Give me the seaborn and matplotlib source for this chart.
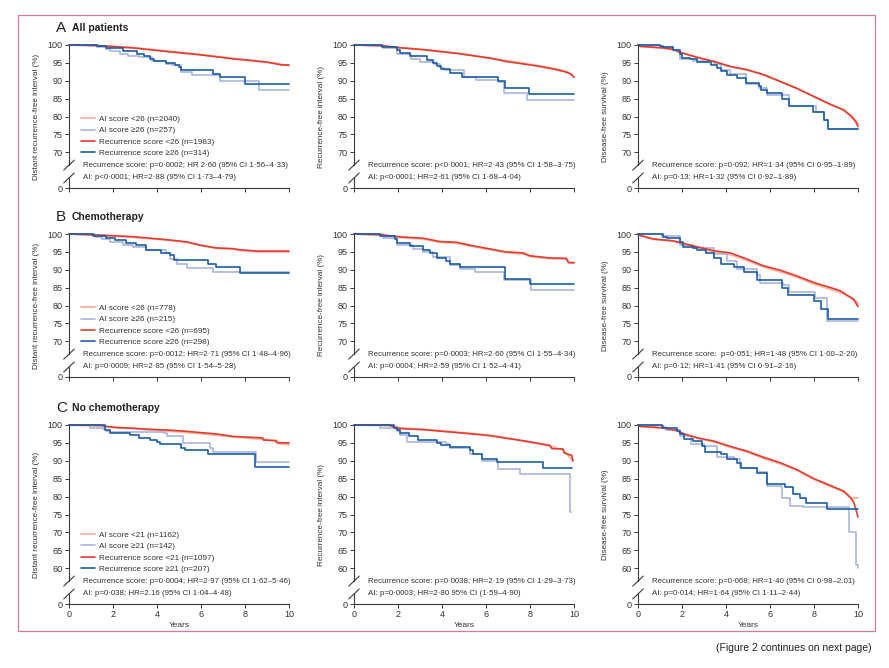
import matplotlib
matplotlib.use("Agg")
import matplotlib.pyplot as plt
import matplotlib.transforms as mtransforms
from matplotlib.patches import Rectangle
import seaborn as sns

# --- data: (years, % event-free) for each Kaplan-Meier curve ---
# A: all patients
a1_ai_lo = ([0, 1.0, 2.0, 3.0, 4.0, 5.0, 6.0, 7.0, 7.5, 8.0, 8.5, 9.0, 9.5, 9.7, 10.0],
            [100, 99.9, 99.6, 99.2, 98.6, 98.0, 97.3, 96.6, 96.2, 95.9, 95.6, 95.2, 94.8, 94.4, 94.3])
a1_ai_hi = ([0, 1.25, 1.7, 1.85, 2.3, 2.7, 3.2, 3.75, 4.4, 4.7, 5.1, 5.6, 6.85, 8.65, 10],
            [100, 99.5, 98.9, 98.2, 97.6, 97.0, 96.7, 95.5, 94.8, 94.3, 92.5, 91.7, 90.0, 87.5, 87.5])
a1_rs_lo = ([0, 1.4, 2.9, 4.4, 5.9, 7.5, 8.2, 9.0, 9.6, 10],
            [100, 99.8, 99.2, 98.2, 97.3, 96.1, 95.7, 95.2, 94.5, 94.4])
a1_rs_hi = ([0, 1.25, 1.7, 2.45, 3.1, 3.4, 3.7, 3.85, 4.4, 4.8, 5.0, 5.1, 6.55, 6.85, 8.0, 10],
            [100, 99.6, 99.1, 98.2, 97.4, 96.8, 96.2, 95.5, 95.0, 94.5, 93.8, 93.0, 92.0, 91.0, 89.2, 89.2])

a2_ai_lo = ([0, 1.0, 2.0, 3.0, 4.0, 5.0, 6.0, 7.0, 8.0, 9.0, 9.5, 9.8, 10],
            [100, 99.8, 99.3, 98.8, 98.1, 97.4, 96.5, 95.6, 94.6, 93.6, 92.9, 92.2, 91.0])
a2_ai_hi = ([0, 1.3, 1.95, 2.6, 3.0, 3.65, 3.9, 4.1, 5.0, 5.55, 6.55, 6.8, 7.85, 10],
            [100, 99.2, 97.6, 96.0, 95.3, 94.8, 93.5, 93.0, 91.0, 90.1, 89.6, 86.7, 84.6, 84.6])
a2_rs_lo = ([0, 1.3, 1.95, 3.15, 4.65, 6.2, 6.9, 7.7, 8.45, 9.2, 9.65, 9.9, 10],
            [100, 99.8, 99.3, 98.7, 97.7, 96.3, 95.4, 94.7, 94.0, 93.1, 92.4, 91.7, 91.0])
a2_rs_hi = ([0, 1.25, 1.95, 2.1, 2.55, 3.3, 3.6, 3.75, 3.95, 4.35, 4.9, 6.55, 6.85, 7.95, 10],
            [100, 99.4, 98.5, 97.7, 96.8, 95.7, 95.0, 94.0, 93.2, 92.3, 91.0, 90.0, 88.0, 86.2, 86.2])

a3_ai_lo = ([0, 0.1, 0.4, 1.15, 1.6, 1.9, 2.7, 3.45, 4.2, 4.95, 5.7, 6.45, 7.2, 8.0, 8.75, 9.35, 9.7, 9.9, 10],
            [100, 99.7, 99.5, 99.1, 98.7, 97.9, 96.6, 95.3, 93.9, 93.0, 91.8, 89.9, 88.0, 85.5, 83.3, 81.9, 80.2, 79.0, 78.0])
a3_ai_hi = ([0, 1.0, 1.6, 1.9, 2.5, 3.45, 3.75, 4.2, 4.9, 5.5, 5.85, 6.85, 8.1, 8.45, 8.65, 10],
            [100, 99.5, 98.5, 96.0, 95.6, 94.7, 93.0, 92.0, 89.0, 88.0, 86.0, 83.0, 81.3, 79.0, 76.4, 76.4])
a3_rs_lo = ([0, 0.1, 0.4, 1.15, 1.6, 1.9, 2.7, 3.45, 4.2, 4.95, 5.7, 6.45, 7.2, 8.0, 8.75, 9.35, 9.7, 9.9, 10],
            [100, 99.6, 99.5, 99.2, 98.8, 98.0, 96.5, 95.4, 94.0, 93.1, 91.7, 89.8, 87.9, 85.6, 83.4, 81.8, 80.0, 78.5, 77.2])
a3_rs_hi = ([0, 1.0, 1.15, 1.6, 1.9, 2.0, 2.35, 2.7, 3.3, 3.6, 3.75, 4.05, 4.5, 4.9, 5.5, 5.6, 5.85, 6.55, 6.85, 7.95, 8.45, 8.65, 10],
            [100, 99.6, 99.4, 98.6, 97.6, 96.3, 96.0, 95.3, 94.3, 93.5, 92.7, 91.7, 90.7, 89.5, 88.6, 87.3, 86.6, 85.0, 82.8, 81.3, 79.0, 76.4, 76.4])

# B: chemotherapy
b1_ai_lo = ([0, 1.4, 2.9, 4.45, 5.35, 5.95, 6.7, 7.45, 7.75, 8.6, 10],
            [100, 99.6, 99.1, 98.3, 97.7, 96.8, 96.0, 95.8, 95.4, 95.0, 95.0])
b1_ai_hi = ([0, 1.2, 1.5, 1.85, 2.45, 2.9, 3.5, 4.4, 4.6, 4.9, 5.35, 6.55, 10],
            [100, 99.2, 98.5, 97.7, 97.0, 96.5, 95.5, 94.7, 93.0, 91.5, 90.6, 89.3, 89.0])
b1_rs_lo = ([0, 1.4, 2.9, 4.45, 5.35, 5.95, 6.7, 7.45, 7.75, 8.6, 10],
            [100, 99.7, 99.25, 98.4, 97.8, 96.9, 96.1, 95.9, 95.6, 95.2, 95.2])
b1_rs_hi = ([0, 1.1, 1.7, 2.1, 2.6, 3.05, 3.5, 4.2, 4.6, 4.75, 6.3, 6.7, 7.75, 10],
            [100, 99.5, 99.0, 98.2, 97.6, 96.9, 95.5, 94.7, 94.0, 92.6, 91.7, 90.7, 89.0, 89.0])

b2_ai_lo = ([0, 1.2, 2.1, 3.15, 3.9, 4.65, 5.4, 6.2, 6.9, 7.7, 8.0, 8.9, 9.65, 9.75, 10],
            [100, 99.7, 99.0, 98.6, 97.7, 97.4, 96.5, 95.6, 94.8, 94.4, 93.7, 93.1, 93.0, 92.0, 91.8])
b2_ai_hi = ([0, 1.3, 1.95, 2.7, 3.15, 3.6, 4.35, 4.8, 5.5, 6.8, 8.05, 10],
            [100, 99.0, 96.8, 95.8, 95.0, 93.5, 91.3, 90.2, 89.4, 87.0, 84.3, 84.3])
b2_rs_lo = ([0, 1.2, 2.1, 3.15, 3.9, 4.65, 5.4, 6.2, 6.9, 7.7, 8.0, 8.9, 9.65, 9.75, 10],
            [100, 99.8, 99.2, 98.8, 97.9, 97.7, 96.7, 95.8, 95.0, 94.7, 93.9, 93.3, 93.2, 92.0, 92.0])
b2_rs_hi = ([0, 1.2, 1.85, 1.95, 2.55, 3.15, 3.45, 3.75, 4.2, 4.35, 4.8, 6.85, 8.0, 10],
            [100, 99.4, 98.7, 97.5, 96.6, 95.4, 94.6, 93.3, 92.5, 91.6, 90.7, 87.5, 85.9, 85.9])

b3_ai_lo = ([0, 0.1, 0.4, 0.7, 1.6, 2.1, 2.7, 3.45, 4.2, 4.95, 5.7, 6.45, 7.2, 8.0, 8.75, 9.2, 9.8, 10],
            [100, 99.6, 99.0, 98.5, 98.0, 97.1, 96.2, 95.0, 94.2, 92.6, 90.8, 89.4, 88.0, 86.0, 84.5, 83.6, 81.9, 80.5])
b3_ai_hi = ([0, 1.1, 1.9, 2.5, 3.45, 4.05, 4.5, 5.4, 5.55, 6.6, 6.85, 8.05, 8.6, 10],
            [100, 99.4, 97.0, 96.0, 94.3, 92.5, 90.2, 88.5, 86.4, 85.8, 83.7, 82.0, 75.6, 75.6])
b3_rs_lo = ([0, 0.1, 0.4, 0.7, 1.6, 2.1, 2.7, 3.45, 4.2, 4.95, 5.7, 6.45, 7.2, 8.0, 8.75, 9.2, 9.8, 10],
            [100, 99.6, 99.1, 98.6, 98.1, 97.3, 96.4, 95.3, 94.7, 93.0, 91.1, 89.9, 88.3, 86.4, 85.0, 84.1, 81.7, 79.7])
b3_rs_hi = ([0, 1.15, 1.3, 1.9, 2.05, 2.5, 2.7, 3.1, 3.45, 3.75, 4.35, 4.8, 5.4, 6.55, 6.8, 8.0, 8.3, 8.65, 10],
            [100, 99.2, 98.8, 97.7, 96.4, 96.0, 95.4, 94.8, 93.4, 91.7, 90.7, 89.4, 87.0, 85.0, 83.0, 81.3, 79.0, 76.3, 76.3])

# C: no chemotherapy
c1_ai_lo = ([0, 1.55, 2.9, 4.45, 5.95, 7.45, 8.8, 9.5, 9.55, 10],
            [100, 99.6, 99.0, 98.3, 97.6, 96.7, 96.0, 95.6, 94.8, 94.5])
c1_ai_hi = ([0, 0.95, 1.55, 1.7, 1.85, 4.3, 4.45, 5.2, 6.4, 6.55, 8.5, 10],
            [100, 99.2, 99.0, 98.3, 98.0, 97.7, 96.8, 95.0, 93.5, 92.5, 89.8, 89.8])
c1_rs_lo = ([0, 1.4, 1.7, 2.1, 2.9, 3.65, 4.45, 5.2, 5.95, 6.7, 7.45, 8.8, 8.85, 9.4, 9.45, 10],
            [100, 100, 99.6, 99.3, 99.1, 98.8, 98.6, 98.3, 97.9, 97.5, 96.8, 96.4, 95.8, 95.6, 95.0, 95.0])
c1_rs_hi = ([0, 1.65, 1.85, 2.75, 3.2, 3.7, 4.0, 4.15, 5.1, 5.25, 6.3, 8.45, 10],
            [100, 98.5, 97.9, 97.2, 96.5, 95.9, 95.3, 94.6, 93.6, 93.0, 92.0, 88.3, 88.3])

c2_ai_lo = ([0, 1.6, 2.1, 3.15, 4.65, 5.4, 6.2, 6.9, 7.7, 8.45, 9.0, 9.5, 9.95],
            [100, 99.8, 99.2, 98.8, 98.0, 97.6, 97.1, 96.5, 95.5, 94.7, 94.0, 93.0, 90.0])
c2_ai_hi = ([0, 1.2, 1.95, 2.1, 2.4, 4.2, 4.35, 5.25, 5.8, 6.55, 7.55, 9.8, 9.85],
            [100, 99.3, 98.3, 97.3, 95.3, 94.8, 93.6, 92.0, 89.9, 87.6, 86.3, 75.6, 75.6])
c2_rs_lo = ([0, 1.6, 1.8, 2.1, 3.15, 4.65, 5.4, 6.2, 6.9, 7.7, 8.45, 8.9, 9.0, 9.5, 9.55, 9.9, 9.95],
            [100, 100, 99.5, 99.0, 98.7, 97.9, 97.5, 97.0, 96.3, 95.6, 94.8, 94.3, 93.4, 93.3, 92.2, 91.5, 90.0])
c2_rs_hi = ([0, 1.8, 1.95, 2.1, 2.5, 2.9, 3.75, 3.95, 4.35, 5.25, 5.4, 5.8, 6.5, 8.6, 9.9],
            [100, 99.3, 98.5, 97.8, 96.8, 95.7, 95.0, 94.3, 93.8, 93.0, 92.0, 90.5, 89.8, 88.0, 88.0])

c3_ai_lo = ([0, 0.1, 0.4, 1.15, 1.75, 2.1, 2.7, 3.45, 4.2, 4.95, 5.7, 6.45, 7.2, 8.0, 8.75, 9.35, 9.65, 10],
            [100, 99.7, 99.5, 99.1, 98.4, 97.4, 96.3, 95.3, 93.8, 92.5, 90.7, 89.2, 87.4, 84.8, 82.8, 81.4, 79.6, 79.6])
c3_ai_hi = ([0, 1.1, 1.25, 1.9, 2.4, 3.0, 3.6, 4.35, 4.65, 5.4, 5.85, 6.55, 6.9, 7.5, 9.6, 9.9, 10],
            [100, 99.5, 98.5, 97.0, 94.8, 94.0, 91.0, 90.5, 88.0, 87.0, 83.0, 79.5, 77.5, 77.0, 70.0, 61.0, 60.0])
c3_rs_lo = ([0, 0.1, 0.4, 1.15, 1.75, 2.1, 2.7, 3.45, 4.2, 4.95, 5.7, 6.45, 7.2, 8.0, 8.75, 9.35, 9.65, 9.8, 9.9, 10],
            [100, 99.6, 99.5, 99.2, 98.5, 97.5, 96.4, 95.5, 94.0, 92.7, 91.0, 89.5, 87.6, 85.0, 83.1, 81.5, 79.8, 78.5, 76.5, 74.3])
c3_rs_hi = ([0, 1.1, 1.15, 1.75, 1.9, 2.1, 2.5, 2.9, 3.05, 3.75, 4.05, 4.5, 4.7, 5.4, 5.85, 6.7, 7.05, 7.35, 7.65, 8.6, 10],
            [100, 99.6, 99.2, 98.4, 97.6, 96.0, 95.5, 94.0, 92.5, 92.0, 90.5, 89.5, 88.0, 86.5, 83.6, 82.7, 80.7, 79.5, 78.3, 76.6, 76.6])

row_titles = [("A", "All patients"), ("B", "Chemotherapy"), ("C", "No chemotherapy")]
y_labels = ["Distant recurrence-free interval (%)", "Recurrence-free interval (%)", "Disease-free survival (%)"]
legend_labels = [
    ["AI score <26 (n=2040)", "AI score ≥26 (n=257)", "Recurrence score <26 (n=1983)", "Recurrence score ≥26 (n=314)"],
    ["AI score <26 (n=778)", "AI score ≥26 (n=215)", "Recurrence score <26 (n=695)", "Recurrence score ≥26 (n=298)"],
    ["AI score <21 (n=1162)", "AI score ≥21 (n=142)", "Recurrence score <21 (n=1097)", "Recurrence score ≥21 (n=207)"],
]
stats_text = [
    [("Recurrence score: p=0·0002; HR 2·60 (95% CI 1·56–4·33)", "AI: p<0·0001; HR=2·88 (95% CI 1·73–4·79)"),
     ("Recurrence score: p<0·0001; HR=2·43 (95% CI 1·58–3·75)", "AI: p<0·0001; HR=2·61 (95% CI 1·68–4·04)"),
     ("Recurrence score: p=0·092; HR=1·34 (95% CI 0·95–1·89)", "AI: p=0·13; HR=1·32 (95% CI 0·92–1·89)")],
    [("Recurrence score: p=0·0012; HR=2·71 (95% CI 1·48–4·96)", "AI: p=0·0009; HR=2·85 (95% CI 1·54–5·28)"),
     ("Recurrence score: p=0·0003; HR=2·60 (95% CI 1·55–4·34)", "AI: p=0·0004; HR=2·59 (95% CI 1·52–4·41)"),
     ("Recurrence score:  p=0·051; HR=1·48 (95% CI 1·00–2·20)", "AI: p=0·12; HR=1·41 (95% CI 0·91–2·16)")],
    [("Recurrence score: p=0·0004; HR=2·97 (95% CI 1·62–5·46)", "AI: p=0·038; HR=2.16 (95% CI 1·04–4·48)"),
     ("Recurrence score: p=0·0038; HR=2·19 (95% CI 1·29–3·73)", "AI: p=0·0003; HR=2·80 95% CI (1·59–4·90)"),
     ("Recurrence score: p=0·068; HR=1·40 (95% CI 0·98–2.01)", "AI: p=0·014; HR=1·64 (95% CI 1·11–2·44)")],
]
panels = [
    [(a1_ai_lo, a1_ai_hi, a1_rs_lo, a1_rs_hi), (a2_ai_lo, a2_ai_hi, a2_rs_lo, a2_rs_hi), (a3_ai_lo, a3_ai_hi, a3_rs_lo, a3_rs_hi)],
    [(b1_ai_lo, b1_ai_hi, b1_rs_lo, b1_rs_hi), (b2_ai_lo, b2_ai_hi, b2_rs_lo, b2_rs_hi), (b3_ai_lo, b3_ai_hi, b3_rs_lo, b3_rs_hi)],
    [(c1_ai_lo, c1_ai_hi, c1_rs_lo, c1_rs_hi), (c2_ai_lo, c2_ai_hi, c2_rs_lo, c2_rs_hi), (c3_ai_lo, c3_ai_hi, c3_rs_lo, c3_rs_hi)],
]
x_ticks = [0, 2, 4, 6, 8, 10]

# --- style ---
sns.set_theme(style="ticks")
plt.rcParams['font.family'] = ['Liberation Sans', 'DejaVu Sans']

curve_colors = ["#f6b9a6", "#a9b5de", "#e63a2e", "#1f5da6"]
curve_widths = [1.4, 1.2, 1.2, 1.2]
curve_steps = [False, True, False, True]
AX_COLOR = "#3a3a3a"
TXT_COLOR = "#333333"

W, H = 889, 668
fig = plt.figure(figsize=(W / 100, H / 100), dpi=100)

col_x0 = [69, 354, 638]
row_px = [(45, 188), (234, 377), (425, 604)]
row_ybottom = [60, 60, 50]   # display position of the "0" tick (broken axis)
row_yticks = [[70, 75, 80, 85, 90, 95, 100], [70, 75, 80, 85, 90, 95, 100],
              [60, 65, 70, 75, 80, 85, 90, 95, 100]]

for r in range(3):
    top, bot = row_px[r]
    y0 = row_ybottom[r]
    fig.text(56 / W, 1 - (top - 17) / H, row_titles[r][0], fontsize=11, va="center", color="#222222")
    fig.text(72 / W, 1 - (top - 17) / H, row_titles[r][1], fontsize=7.5, fontweight="bold",
             va="center", color="#222222")
    for c in range(3):
        ax = fig.add_axes([col_x0[c] / W, 1 - bot / H, 220 / W, (bot - top) / H])
        for curve, col, lw, step, lab in zip(panels[r][c], curve_colors, curve_widths,
                                             curve_steps, legend_labels[r]):
            t, s = curve
            sns.lineplot(x=t, y=s, ax=ax, color=col, lw=lw, estimator=None, sort=False,
                         drawstyle="steps-post" if step else "default", clip_on=False,
                         label=lab, legend=False)
        ax.set_xlim(0, 10)
        ax.set_ylim(y0, 100)
        ax.set_yticks([y0] + row_yticks[r])
        ax.set_yticklabels(["0"] + [str(v) for v in row_yticks[r]])
        ax.set_xticks(x_ticks)
        ax.tick_params(axis="both", length=3, width=0.7, color=AX_COLOR, labelsize=6.5,
                       labelcolor=TXT_COLOR, pad=1.5)
        if r < 2:
            ax.tick_params(axis="x", labelbottom=False)
        else:
            ax.set_xlabel("Years", fontsize=6, color=TXT_COLOR, labelpad=2)
        ax.set_ylabel(y_labels[c], fontsize=5.9, color=TXT_COLOR)
        ax.yaxis.set_label_coords(-0.13, 0.5)

        for side in ["top", "right"]:
            ax.spines[side].set_visible(False)
        for side in ["left", "bottom"]:
            ax.spines[side].set_color(AX_COLOR)
            ax.spines[side].set_linewidth(0.8)

        # broken y axis
        upper, lower = y0 + 6.4, y0 + 2.8
        ax.spines["left"].set_bounds(upper, 100)
        ax.plot([0, 0], [y0, lower], color=AX_COLOR, lw=0.8, clip_on=False)
        blend = mtransforms.blended_transform_factory(ax.transAxes, ax.transData)
        for yb in (upper, lower):
            ax.plot([-0.024, 0.024], [yb - 1.4, yb + 1.4], color=AX_COLOR, lw=0.8,
                    transform=blend, clip_on=False)

        ax.text(0.065, y0 + 6.3, stats_text[r][c][0], transform=blend, fontsize=5.65,
                va="center", color=TXT_COLOR)
        ax.text(0.065, y0 + 3.0, stats_text[r][c][1], transform=blend, fontsize=5.65,
                va="center", color=TXT_COLOR)

        if c == 0:
            ax.legend(ax.get_lines()[:4], legend_labels[r], loc="lower left",
                      bbox_to_anchor=(0.055, y0 + 8.6), bbox_transform=blend,
                      frameon=False, fontsize=5.9, handlelength=1.75, handletextpad=0.4,
                      labelspacing=0.45, borderpad=0, borderaxespad=0, labelcolor=TXT_COLOR)

fig.patches.append(Rectangle((18 / W, 1 - 631 / H), (875 - 18) / W, (631 - 15) / H,
                             transform=fig.transFigure, fill=False, ec="#d97ba0", lw=0.9))
fig.text(872 / W, 1 - 648 / H, "(Figure 2 continues on next page)", ha="right", va="center",
         fontsize=7.5, color="#222222")

fig.savefig("out.png", dpi=100)
plt.close(fig)
